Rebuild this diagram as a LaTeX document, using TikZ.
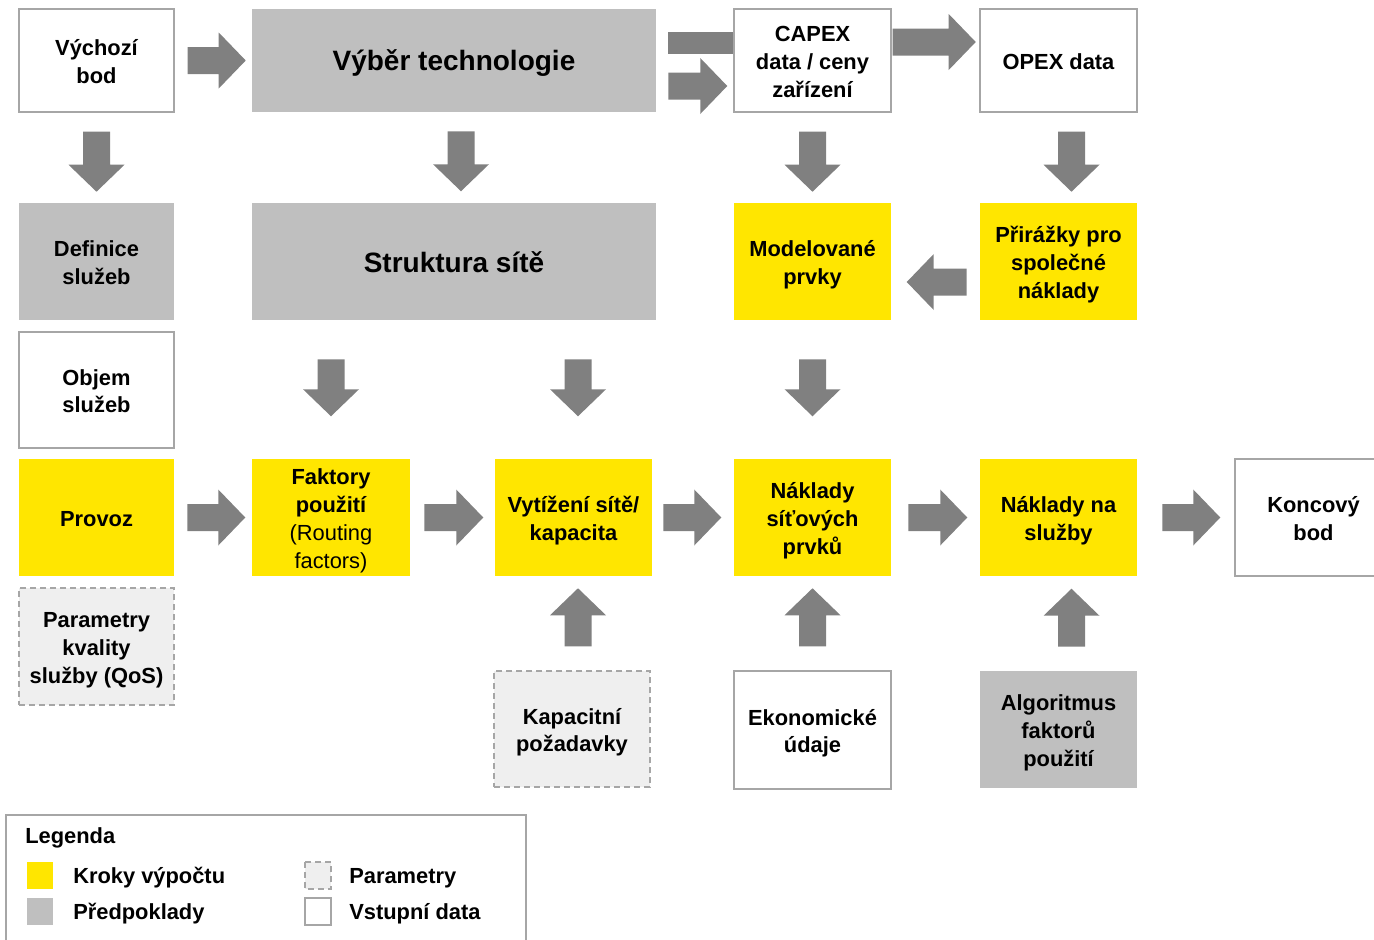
\documentclass[tikz,border=0pt]{standalone}
\usepackage{fontspec}
\setmainfont{Liberation Sans}
\usetikzlibrary{calc}
\definecolor{stepyellow}{HTML}{FFE600}
\definecolor{assumgray}{HTML}{BFBFBF}
\definecolor{paramgray}{HTML}{EFEFEF}
\definecolor{edgegray}{HTML}{A6A6A6}
\definecolor{arrowgray}{HTML}{808080}

% block arrow: #1 start point (middle of the tail), #2 direction angle, #3 length
\newcommand\blockarr[3]{%
  \fill[arrowgray, shift={#1}, rotate=#2]
    (0,-13.5) -- (#3-27,-13.5) -- (#3-27,-28) -- (#3,0) -- (#3-27,28)
    -- (#3-27,13.5) -- (0,13.5) -- cycle;}
% strut for the first line of a multi-line label
\newcommand\firstln{\rule{0pt}{17pt}}

\tikzset{
  bw/.style={minimum width=#1*0.75pt},
  bh/.style={minimum height=#1*0.75pt},
  % fixed struts give a steady vertical centring
  box/.style={bw=155, bh=117, inner sep=0pt, align=center,
    execute at begin node={\rule{0pt}{17pt}},
    execute at end node={\rule[-3.5pt]{0pt}{3.5pt}},
    font=\fontsize{16.4}{20.8}\selectfont\bfseries},
  inputbox/.style={box, fill=white, draw=edgegray, line width=1.1pt},
  assumbox/.style={box, fill=assumgray},
  calcbox/.style={box, fill=stepyellow},
  parambox/.style={box, fill=paramgray, draw=edgegray, line width=1.1pt,
    dash pattern=on 4.5pt off 3pt},
  bigtext/.style={font=\fontsize{21}{24}\selectfont\bfseries,
    execute at begin node={\rule{0pt}{19.3pt}}},
  legtext/.style={anchor=west, inner sep=0pt, font=\fontsize{16.4}{20}\selectfont\bfseries},
}

\begin{document}
\begin{tikzpicture}[x=0.75pt, y=0.75pt]
\clip (0,0) rectangle (1374,-939);

% top row
\node[inputbox, bh=103] (vb) at (96.5,-60.5) {\firstln Výchozí\\bod};
\node[assumbox, bw=404, bh=103, bigtext] (vt) at (454,-60.5) {Výběr technologie};
\node[inputbox, bw=157, bh=103] (cx) at (812.5,-60.5) {\firstln CAPEX\\data / ceny\\zařízení};
\node[inputbox, bw=157, bh=103] (ox) at (1058.5,-60.5) {OPEX data};

% second row
\node[assumbox] (ds) at (96.5,-261.5) {\firstln Definice\\služeb};
\node[assumbox, bw=404, bigtext] (ss) at (454,-261.5) {Struktura sítě};
\node[calcbox, bw=157] (mp) at (812.5,-261.5) {\firstln Modelované\\prvky};
\node[calcbox, bw=157] (pr) at (1058.5,-261.5) {\firstln Přirážky pro\\společné\\náklady};

% third row
\node[inputbox, bh=116] (os) at (96.5,-390) {\firstln Objem\\služeb};

% calculation row
\node[calcbox] (pv) at (96.5,-517.5) {Provoz};
\node[calcbox, bw=158] (fp) at (331,-517.5) {\firstln Faktory\\použití\\{\mdseries (Routing}\\{\mdseries factors)}};
\node[calcbox, bw=157] (vs) at (573.5,-517.5) {\firstln Vytížení sítě/\\kapacita};
\node[calcbox, bw=157] (ns) at (812.5,-517.5) {\firstln Náklady\\síťových\\prvků};
\node[calcbox, bw=157] (nsl) at (1058.5,-517.5) {\firstln Náklady na\\služby};
\node[inputbox, bw=157] (kb) at (1313.5,-517.5) {\firstln Koncový\\bod};

% bottom rows
\node[parambox] (qos) at (96.5,-646.5) {\firstln Parametry\\kvality\\služby (QoS)};
\node[parambox, bw=156, bh=116] (kp) at (572,-729) {\firstln Kapacitní\\požadavky};
\node[inputbox, bw=157, bh=118] (eu) at (812.5,-730) {\firstln Ekonomické\\údaje};
\node[assumbox, bw=157] (af) at (1058.5,-729.5) {\firstln Algoritmus\\faktorů\\použití};

% arrows of the top row
\blockarr{($(vb.east)+(13,0)$)}{0}{58}
\fill[arrowgray] ($(vt.east)+(12,28.5)$) rectangle ($(cx.west)+(0,6.5)$);
\blockarr{($(vt.east)+(12,-25.5)$)}{0}{59}
\blockarr{($(cx.east)+(1,18.5)$)}{0}{83}

% arrows down to the second row
\blockarr{($(vb.south)+(0,-19)$)}{-90}{60}
\blockarr{($(vt.south)+(7,-19)$)}{-90}{60}
\blockarr{($(cx.south)+(0,-19)$)}{-90}{60}
\blockarr{($(ox.south)+(13,-19)$)}{-90}{60}

% surcharges feed the modelled elements
\blockarr{($(pr.west)+(-13,-20.5)$)}{180}{60}

% arrows down to the calculation row
\blockarr{($(fp.north |- ss.south)+(0,-39)$)}{-90}{57}
\blockarr{($(vs.north |- ss.south)+(4.5,-39)$)}{-90}{57}
\blockarr{($(mp.south)+(0,-39)$)}{-90}{57}

% calculation chain
\blockarr{($(pv.east)+(13,0)$)}{0}{58}
\blockarr{($(fp.east)+(14,0)$)}{0}{59}
\blockarr{($(vs.east)+(11,0)$)}{0}{58}
\blockarr{($(ns.east)+(17,0)$)}{0}{59}
\blockarr{($(nsl.east)+(25,0)$)}{0}{58}

% inputs from below
\blockarr{($(kp.north)+(6,24)$)}{90}{58}
\blockarr{($(eu.north)+(0,24)$)}{90}{58}
\blockarr{($(af.north)+(13,24)$)}{90}{58}

% legend
\draw[edgegray, line width=1.1pt, fill=white] (6,-815) rectangle (526,-950);
\node[legtext] (lg) at (25,-838) {Legenda};
\fill[stepyellow] (27,-862) rectangle (53,-889);
\node[legtext] (l1) at (73,-878) {Kroky výpočtu};
\fill[assumgray] (27,-898) rectangle (53,-925);
\node[legtext] (l2) at (73,-914) {Předpoklady};
\draw[edgegray, fill=paramgray, line width=1.1pt, dash pattern=on 4.5pt off 3pt] (305,-862) rectangle (331,-889);
\node[legtext] (l3) at (349,-878) {Parametry};
\draw[edgegray, fill=white, line width=1.1pt] (305,-898) rectangle (331,-925);
\node[legtext] (l4) at (349,-914) {Vstupní data};
\end{tikzpicture}
\end{document}
